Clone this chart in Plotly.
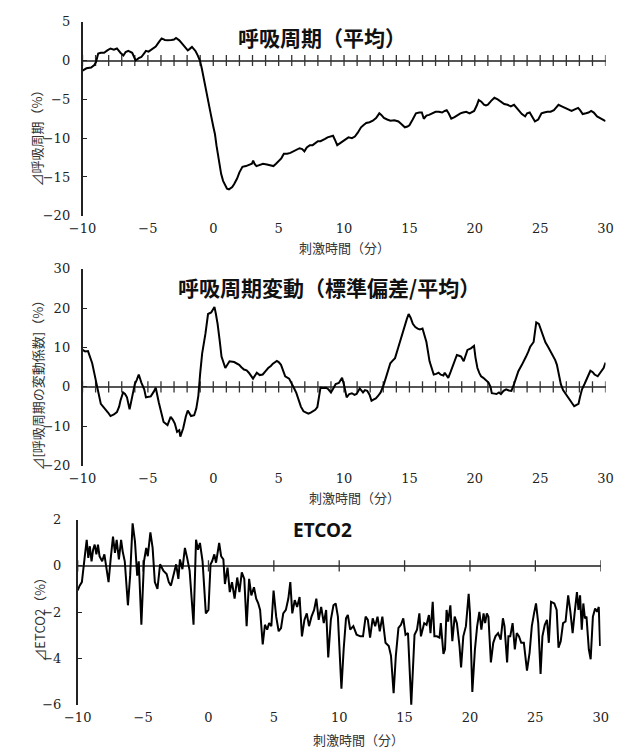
import plotly.graph_objects as go

# ---------------- data ----------------
# Panel 1: 呼吸周期（平均）
t1 = [-10, -9.7, -9.34, -9.1, -8.97, -8.8, -8.6, -8.35, -8.1, -7.86,
      -7.6, -7.37, -7.1, -6.87, -6.7, -6.5, -6.2, -6.05, -5.94, -5.7,
      -5.5, -5.3, -5.15, -4.95, -4.8, -4.6, -4.4, -4.15, -3.95, -3.7,
      -3.5, -3.2, -3.0, -2.85, -2.6, -2.4, -2.15, -1.95, -1.8, -1.63,
      -1.45, -1.35, -1.2, -1.02, -0.88, -0.73, -0.6, -0.5, -0.35, -0.18,
      0.0, 0.13, 0.25, 0.37, 0.5, 0.6, 0.75, 0.93, 1.05, 1.2,
      1.32, 1.45, 1.6, 1.82, 2.0, 2.23, 2.5, 2.8, 2.95, 3.05,
      3.15, 3.3, 3.55, 3.8, 4.1, 4.4, 4.6, 4.8, 5.0, 5.2,
      5.4, 5.65, 5.9, 6.25, 6.6, 6.8, 6.97, 7.15, 7.39, 7.6,
      7.8, 8.0, 8.2, 8.37, 8.55, 8.74, 8.95, 9.16, 9.3, 9.48,
      9.65, 9.85, 10.1, 10.34, 10.6, 10.83, 11.05, 11.3, 11.5, 11.7,
      11.95, 12.2, 12.45, 12.7, 12.85, 13.05, 13.3, 13.55, 13.85, 14.16,
      14.4, 14.65, 14.85, 15.0, 15.25, 15.5, 15.75, 15.95, 16.1, 16.3,
      16.5, 16.75, 17.0, 17.25, 17.5, 17.7, 17.85, 18.0, 18.2, 18.45,
      18.7, 18.9, 19.1, 19.35, 19.6, 19.8, 19.95, 20.15, 20.3, 20.5,
      20.7, 20.85, 21.0, 21.25, 21.5, 21.75, 22.0, 22.25, 22.5, 22.75,
      23.0, 23.2, 23.35, 23.6, 23.85, 24.0, 24.2, 24.4, 24.6, 24.85,
      25.1, 25.3, 25.55, 25.8, 26.05, 26.25, 26.4, 26.65, 26.9, 27.15,
      27.4, 27.65, 27.9, 28.05, 28.25, 28.5, 28.7, 28.9, 29.1, 29.35,
      29.6, 29.8, 30.0]
v1 = [-1.3, -1.0, -0.9, -0.6, -0.2, 0.9, 1.0, 1.0, 1.3, 1.55,
      1.4, 1.55, 1.0, 0.65, 1.1, 1.25, 1.0, 0.5, 0.0, 0.3,
      0.45, 0.9, 1.25, 1.15, 1.3, 1.5, 1.8, 2.4, 2.85, 2.65,
      2.6, 2.65, 2.7, 2.9, 2.6, 2.2, 1.7, 1.3, 1.5, 1.75,
      1.4, 1.2, 0.7, 0.0, -1.0, -2.4, -3.5, -4.5, -5.8, -7.0,
      -8.5, -9.5, -11.0, -12.4, -13.6, -14.6, -15.5, -16.2, -16.5, -16.6,
      -16.5, -16.3, -15.9, -15.2, -14.4, -13.7, -13.6, -13.4, -13.3, -12.9,
      -13.3, -13.6, -13.4, -13.3, -13.4, -13.5, -13.6, -13.3, -12.9, -12.6,
      -12.0, -12.0, -11.9, -11.6, -11.3, -11.4, -11.7, -11.2, -10.9, -10.9,
      -10.6, -10.4, -10.4, -10.2, -10.1, -9.9, -9.8, -9.7, -10.2, -10.9,
      -10.7, -10.5, -10.2, -9.9, -10.0, -9.8, -9.3, -8.6, -8.3, -8.05,
      -7.95, -7.75, -7.4, -6.8, -7.0, -7.4, -7.6, -7.75, -7.7, -7.85,
      -8.2, -8.6, -8.5, -8.35, -7.6, -6.8, -6.7, -6.7, -7.5, -7.1,
      -7.0, -6.8, -6.6, -6.6, -6.7, -6.5, -6.4, -6.8, -7.5, -7.3,
      -7.0, -6.8, -6.7, -6.6, -6.8, -6.6, -6.5, -5.8, -5.1, -5.3,
      -5.7, -5.8, -5.7, -5.2, -4.8, -5.0, -5.3, -5.6, -5.7, -5.9,
      -5.7, -6.1, -6.5, -6.9, -7.2, -6.8, -6.7, -7.2, -7.85, -7.6,
      -6.8, -6.7, -6.6, -6.6, -6.4, -6.0, -5.7, -5.9, -6.1, -6.3,
      -6.5, -6.3, -6.1, -6.4, -6.9, -6.8, -6.7, -6.5, -6.7, -7.2,
      -7.4, -7.6, -7.8]

# Panel 2: 呼吸周期変動（標準偏差/平均）
t2 = [-10, -9.8, -9.58, -9.4, -9.26, -9.1, -9.0, -8.84, -8.6, -8.4,
      -8.23, -8.05, -7.86, -7.6, -7.37, -7.2, -7.1, -6.9, -6.75, -6.6,
      -6.4, -6.2, -6.0, -5.85, -5.7, -5.5, -5.28, -5.15, -4.95, -4.78,
      -4.55, -4.4, -4.17, -4.0, -3.8, -3.5, -3.26, -3.1, -2.94, -2.77,
      -2.6, -2.52, -2.3, -2.1, -1.95, -1.7, -1.46, -1.3, -1.14, -1.0,
      -0.85, -0.6, -0.4, -0.16, 0.09, 0.2, 0.33, 0.5, 0.63, 0.92,
      1.1, 1.24, 1.6, 1.8, 1.98, 2.15, 2.35, 2.55, 2.72, 3.04,
      3.2, 3.33, 3.55, 3.78, 4.0, 4.2, 4.4, 4.56, 4.86, 5.0,
      5.18, 5.35, 5.5, 5.8, 6.0, 6.16, 6.35, 6.53, 6.7, 6.9,
      7.1, 7.27, 7.45, 7.64, 7.8, 7.96, 8.1, 8.2, 8.4, 8.62,
      8.8, 9.0, 9.2, 9.36, 9.6, 9.85, 10.0, 10.2, 10.4, 10.6,
      10.8, 10.96, 11.2, 11.45, 11.6, 11.77, 11.95, 12.1, 12.25, 12.43,
      12.6, 12.8, 13.05, 13.3, 13.54, 13.7, 13.9, 14.1, 14.3, 14.5,
      14.65, 14.8, 14.94, 15.1, 15.26, 15.45, 15.63, 15.8, 16.0, 16.15,
      16.3, 16.54, 16.7, 16.86, 17.05, 17.23, 17.4, 17.6, 17.7, 17.97,
      18.15, 18.34, 18.5, 18.63, 18.8, 18.95, 19.15, 19.3, 19.44, 19.7,
      19.94, 20.05, 20.2, 20.35, 20.48, 20.65, 20.8, 21.05, 21.2, 21.3,
      21.5, 21.66, 21.85, 22.0, 22.2, 22.4, 22.6, 22.8, 23.0, 23.15,
      23.33, 23.6, 23.75, 23.92, 24.1, 24.24, 24.5, 24.6, 24.7, 24.9,
      25.05, 25.2, 25.4, 25.6, 25.8, 25.96, 26.15, 26.28, 26.45, 26.58,
      26.75, 26.95, 27.1, 27.3, 27.45, 27.6, 27.75, 27.93, 28.05, 28.2,
      28.4, 28.55, 28.7, 28.84, 29.0, 29.16, 29.4, 29.55, 29.73, 29.85,
      30.0]
v2 = [9.4, 9.0, 9.1, 7.5, 6.0, 3.5, 1.5, -0.6, -4.3, -5.0,
      -5.6, -6.5, -7.4, -7.0, -6.4, -5.0, -3.5, -1.4, -1.8, -2.65,
      -5.7, -2.5, 0.7, 1.8, 3.15, 1.1, -0.6, -2.65, -2.6, -2.4,
      -1.2, -0.2, -3.9, -6.5, -8.9, -9.7, -7.6, -8.3, -9.3, -11.4,
      -11.0, -12.6, -10.5, -7.5, -6.0, -7.4, -7.2, -5.5, -2.2, 3.5,
      8.5, 13.5, 18.5, 18.9, 20.3, 18.5, 16.0, 11.5, 7.7, 4.8,
      5.8, 6.5, 6.3, 6.0, 5.6, 5.0, 4.4, 4.2, 3.6, 2.1,
      3.0, 3.6, 3.0, 3.15, 4.0, 4.8, 5.3, 5.9, 6.6, 6.3,
      5.6, 4.2, 2.7, 2.1, 1.0, -0.2, -1.5, -3.1, -5.0, -6.2,
      -6.6, -6.8, -6.5, -6.2, -5.8, -5.1, -2.0, -0.2, -0.3, -0.2,
      -0.6, -1.4, -0.3, 0.7, 1.0, 2.3, 0.5, -2.65, -1.8, -1.6,
      -2.0, -1.8, -0.4, -1.4, -0.8, -1.0, -2.0, -3.5, -3.2, -2.9,
      -2.3, -1.4, 0.7, 3.5, 6.0, 6.6, 7.3, 9.5, 11.9, 14.0,
      16.0, 17.2, 18.5, 17.5, 16.0, 15.2, 14.8, 14.6, 14.8, 13.0,
      11.4, 6.5, 4.5, 3.15, 3.3, 3.6, 3.1, 2.9, 3.6, 2.3,
      3.8, 5.6, 7.0, 8.1, 7.9, 7.7, 6.5, 8.2, 9.4, 9.8,
      10.4, 7.5, 4.8, 3.5, 2.7, 2.3, 1.9, 1.1, 0.0, -1.6,
      -1.7, -1.8, -1.4, -1.8, -1.0, -0.6, -0.9, -1.0, 0.7, 2.5,
      4.0, 5.6, 6.5, 7.7, 9.0, 10.2, 11.4, 14.0, 16.4, 16.0,
      14.5, 12.7, 11.3, 10.2, 9.0, 7.7, 6.8, 5.6, 3.0, 0.7,
      -0.8, -1.8, -2.5, -3.5, -4.3, -4.9, -4.6, -4.3, -2.5, -0.6,
      0.8, 1.9, 3.0, 4.1, 3.8, 3.15, 2.7, 3.5, 4.4, 4.8,
      6.2]

# Panel 3: ETCO2
t3 = [-10, -9.85, -9.68, -9.56, -9.44, -9.31, -9.19, -9.07, -8.94, -8.82,
      -8.7, -8.57, -8.45, -8.33, -8.13, -7.96, -7.84, -7.64, -7.47, -7.3,
      -7.15, -7.02, -6.85, -6.68, -6.56, -6.4, -6.16, -5.99, -5.8, -5.62,
      -5.45, -5.33, -5.13, -4.93, -4.76, -4.64, -4.44, -4.27, -4.1, -3.9,
      -3.7, -3.45, -3.2, -3.03, -2.87, -2.67, -2.47, -2.3, -2.18, -1.99,
      -1.8, -1.63, -1.44, -1.14, -0.95, -0.8, -0.65, -0.45, -0.2, 0.0,
      0.16, 0.28, 0.45, 0.58, 0.82, 0.97, 1.14, 1.26, 1.46, 1.63,
      1.8, 2.0, 2.2, 2.37, 2.55, 2.74, 2.92, 3.11, 3.28, 3.48,
      3.65, 3.8, 3.95, 4.15, 4.32, 4.49, 4.64, 4.81, 4.98, 5.18,
      5.37, 5.55, 5.72, 5.92, 6.11, 6.26, 6.41, 6.6, 6.78, 6.97,
      7.15, 7.34, 7.52, 7.69, 7.88, 8.08, 8.25, 8.43, 8.62, 8.82,
      9.0, 9.16, 9.36, 9.56, 9.73, 9.9, 10.17, 10.34, 10.52, 10.66,
      10.84, 11.08, 11.33, 11.62, 11.82, 12.02, 12.19, 12.36, 12.56, 12.75,
      12.93, 13.1, 13.3, 13.54, 13.79, 13.96, 14.16, 14.33, 14.53, 14.72,
      14.9, 15.07, 15.26, 15.51, 15.76, 15.95, 16.13, 16.25, 16.5, 16.68,
      16.86, 16.98, 17.15, 17.28, 17.47, 17.67, 17.77, 17.97, 18.09, 18.21,
      18.33, 18.5, 18.65, 18.83, 19.0, 19.2, 19.32, 19.49, 19.69, 19.9,
      20.0, 20.18, 20.38, 20.55, 20.72, 20.87, 21.04, 21.16, 21.29, 21.41,
      21.6, 21.78, 21.95, 22.15, 22.35, 22.52, 22.64, 22.84, 22.94, 23.08,
      23.26, 23.43, 23.58, 23.75, 23.92, 24.12, 24.36, 24.56, 24.73, 24.9,
      25.05, 25.22, 25.4, 25.54, 25.72, 25.89, 26.03, 26.2, 26.45, 26.63,
      26.77, 26.94, 27.12, 27.31, 27.51, 27.68, 27.85, 28.0, 28.18, 28.3,
      28.42, 28.55, 28.67, 28.79, 28.91, 29.09, 29.23, 29.4, 29.57, 29.72,
      29.85, 29.95]
v3 = [-1.06, -0.85, -0.7, -0.2, 0.5, 1.13, 0.35, 0.85, 0.2, 0.7,
      0.92, 0.5, 0.92, 0.42, 0.2, 0.5, 0.07, -0.7, 0.35, 1.27,
      0.56, 1.13, 0.28, 1.13, 0.63, 0.2, -1.7, -0.42, 1.84, 1.06,
      -0.42, 0.2, -2.54, 0.2, 0.78, 0.42, 1.45, 0.78, -0.7, -0.99,
      0.07, -0.2, -0.35, -0.7, -0.85, -0.42, 0.07, -0.56, 0.28, -0.14,
      0.78, 0.35, -0.2, -2.54, 1.13, 0.7, 0.99, 0.2, -2.05, -1.9,
      0.07, 0.2, 0.5, 0.14, 0.99, 0.42, 0.28, -0.78, -0.07, -1.13,
      -0.7, -1.41, -0.5, -1.13, -0.28, -0.56, -2.6, -0.56, -1.27, -0.92,
      -1.41, -1.6, -1.9, -3.39, -2.54, -2.75, -2.47, -2.6, -1.06, -2.19,
      -2.82, -2.68, -2.05, -1.9, -1.41, -0.7, -2.05, -1.48, -1.77, -1.34,
      -3.04, -2.33, -2.05, -2.6, -2.19, -1.9, -1.41, -2.33, -1.77, -2.47,
      -1.9, -3.95, -2.33, -1.7, -1.62, -2.19, -5.3, -3.6, -2.26, -2.12,
      -2.75, -2.6, -2.97, -3.04, -3.04, -2.19, -2.33, -3.1, -2.26, -2.6,
      -2.19, -2.82, -2.19, -3.32, -3.46, -3.88, -5.5, -3.88, -2.68, -2.54,
      -2.26, -2.97, -2.9, -6.0, -2.97, -2.75, -2.05, -3.04, -2.47, -2.54,
      -2.12, -2.9, -1.55, -3.04, -3.04, -3.1, -2.47, -3.8, -3.6, -1.9,
      -2.4, -1.7, -3.25, -2.19, -2.47, -3.46, -4.38, -3.04, -2.6, -1.2,
      -2.05, -5.44, -3.6, -2.6, -1.98, -2.75, -2.05, -2.47, -2.05, -2.19,
      -4.17, -3.32, -3.04, -2.9, -3.18, -2.26, -2.6, -4.17, -3.04, -3.04,
      -2.47, -3.6, -2.9, -3.04, -3.32, -3.32, -4.52, -3.74, -2.6, -2.05,
      -1.62, -2.47, -4.66, -3.04, -2.54, -2.33, -3.32, -1.55, -1.62, -1.9,
      -3.53, -3.25, -2.47, -2.4, -1.27, -1.98, -2.9, -2.05, -1.13, -1.9,
      -1.27, -2.75, -1.62, -2.26, -2.19, -3.6, -4.03, -2.19, -1.84, -1.98,
      -1.77, -3.46]

x_ticks = [-10, -5, 0, 5, 10, 15, 20, 25, 30]
y_ticks1 = [-20, -15, -10, -5, 0, 5]
y_ticks2 = [-20, -10, 0, 10, 20, 30]
y_ticks3 = [-6, -4, -2, 0, 2]
minor1 = list(range(-10, 31, 1))
minor3 = list(range(-10, 31, 5))

titles = ["<b>呼吸周期（平均）</b>", "<b>呼吸周期変動（標準偏差/平均）</b>", "<b>ETCO2</b>"]
y_titles = ["⊿呼吸周期（%）", "⊿[呼吸周期の変動係数]（%）", "⊿ETCO2（%）"]
x_title = "刺激時間（分）"

SERIF = "DejaVu Serif"

# ---------------- layout ----------------
W, H = 629, 756
def px_x(p): return p / W
def px_y(p): return 1 - p / H

panels = [
    dict(t=t1, v=v1, xl=71, xr=613, yt=15, yb=213, yr=[-20, 5], yt_vals=y_ticks1, minor=minor1,
         title=titles[0], tfont="Noto Sans CJK JP", tsize=21, tx=319, ty=31,
         ytitle=y_titles[0], ytx=23, yty=131, xtx=342, xty=245, standoff=8),
    dict(t=t2, v=v2, xl=71, xr=613, yt=267, yb=468, yr=[-20, 30], yt_vals=y_ticks2, minor=minor1,
         title=titles[1], tfont="Noto Sans CJK JP", tsize=21, tx=326, ty=286,
         ytitle=y_titles[1], ytx=24, yty=383, xtx=353, xty=500, standoff=8),
    dict(t=t3, v=v3, xl=66, xr=608, yt=523, yb=712, yr=[-6, 2], yt_vals=y_ticks3, minor=minor3,
         title=titles[2], tfont="Noto Sans", tsize=19, tx=320, ty=534,
         ytitle=y_titles[2], ytx=27, yty=622, xtx=357, xty=747, standoff=12),
]

fig = go.Figure()
annotations = []
for i, p in enumerate(panels, start=1):
    xa = "x" if i == 1 else f"x{i}"
    ya = "y" if i == 1 else f"y{i}"
    fig.add_trace(go.Scatter(x=p["minor"], y=[0] * len(p["minor"]), xaxis=xa, yaxis=ya,
                             mode="markers", hoverinfo="skip",
                             marker=dict(symbol="line-ns", size=8,
                                         line=dict(color="#333333", width=1.3))))
    fig.add_trace(go.Scatter(x=p["t"], y=p["v"], xaxis=xa, yaxis=ya, mode="lines",
                             line=dict(color="black", width=2), cliponaxis=False))
    fig.layout[f"xaxis{'' if i == 1 else i}"] = dict(
        domain=[px_x(p["xl"]), px_x(p["xr"])], range=[-10, 30], anchor=ya,
        showline=False, showgrid=False, zeroline=False, ticks="",
        tickvals=x_ticks, ticklabelstandoff=3,
        tickfont=dict(family=SERIF, size=13, color="#222222"))
    fig.layout[f"yaxis{'' if i == 1 else i}"] = dict(
        domain=[px_y(p["yb"]), px_y(p["yt"])], range=p["yr"], anchor=xa,
        showline=True, linecolor="#222222", linewidth=1.5,
        ticks="inside", ticklen=5, tickwidth=1.3, tickcolor="#222222",
        showgrid=False, zeroline=True, zerolinecolor="#555555", zerolinewidth=1.5,
        tickvals=p["yt_vals"], ticklabelstandoff=p["standoff"],
        tickfont=dict(family=SERIF, size=13, color="#222222"))
    annotations.append(dict(text=p["title"], x=px_x(p["tx"]), y=px_y(p["ty"]),
                            xref="paper", yref="paper", showarrow=False,
                            xanchor="center", yanchor="middle",
                            font=dict(family=p["tfont"], size=p["tsize"], color="#111111")))
    annotations.append(dict(text=p["ytitle"], x=px_x(p["ytx"]), y=px_y(p["yty"]),
                            xref="paper", yref="paper", showarrow=False, textangle=-90,
                            xanchor="center", yanchor="middle",
                            font=dict(family="Noto Sans CJK JP", size=13, color="#333333")))
    annotations.append(dict(text=x_title, x=px_x(p["xtx"]), y=px_y(p["xty"]),
                            xref="paper", yref="paper", showarrow=False,
                            xanchor="center", yanchor="middle",
                            font=dict(family="Noto Sans CJK JP", size=13, color="#333333")))

fig.update_layout(width=W, height=H, margin=dict(l=0, r=0, t=0, b=0),
                  paper_bgcolor="white", plot_bgcolor="white",
                  showlegend=False, annotations=annotations)

fig.write_html("out.html")
